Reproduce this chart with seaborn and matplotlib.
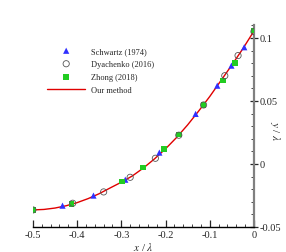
import numpy as np
import pandas as pd
import matplotlib
matplotlib.use("Agg")
import matplotlib.pyplot as plt
import seaborn as sns
from matplotlib.ticker import MultipleLocator, FixedLocator

# data
schwartz_x = [-0.433, -0.363, -0.291, -0.214, -0.132, -0.083, -0.051, -0.022]
schwartz_y = [-0.0331, -0.0251, -0.0125, 0.0090, 0.0397, 0.0621, 0.0780, 0.0926]

dyachenko_x = [-0.500, -0.410, -0.340, -0.280, -0.223, -0.170, -0.114, -0.066, -0.036, 0.000]
dyachenko_y = [-0.0365, -0.0312, -0.0222, -0.0106, 0.0045, 0.0228, 0.0468, 0.0700, 0.0860, 0.1050]

zhong_x = [-0.500, -0.413, -0.298, -0.251, -0.203, -0.170, -0.114, -0.070, -0.043, 0.000]
zhong_y = [-0.0365, -0.0320, -0.0140, -0.0029, 0.0117, 0.0233, 0.0468, 0.0661, 0.0800, 0.1058]

ours_x = [-0.500, -0.475, -0.450, -0.425, -0.400, -0.375, -0.350, -0.325, -0.300,
          -0.275, -0.250, -0.225, -0.200, -0.175, -0.150, -0.125, -0.100, -0.075,
          -0.050, -0.025, 0.000]
ours_y = [-0.0365, -0.0361, -0.0350, -0.0332, -0.0307, -0.0275, -0.0236, -0.0190, -0.0145,
          -0.0095, -0.0032, 0.0040, 0.0120, 0.0210, 0.0310, 0.0420, 0.0535, 0.0660,
          0.0785, 0.0915, 0.1055]

xticks = [-0.5, -0.4, -0.3, -0.2, -0.1, 0.0]
xtick_labels = ["-0.5", "-0.4", "-0.3", "-0.2", "-0.1", "0"]
yticks = [-0.05, 0.0, 0.05, 0.1]
ytick_labels = ["-0.05", "0", "0.05", "0.1"]

sns.set_style("ticks")
plt.rcParams["font.family"] = ["Liberation Serif", "DejaVu Serif"]
plt.rcParams["mathtext.fontset"] = "stix"

fig = plt.figure(figsize=(2.86, 2.53), dpi=100)
ax = fig.add_axes([0.115, 0.099, 0.773, 0.797])

sns.lineplot(x=ours_x, y=ours_y, ax=ax, color="#e00000", lw=1.0,
             label="Our method", zorder=2, sort=False)
sns.scatterplot(x=schwartz_x, y=schwartz_y, ax=ax, marker="^", s=20,
                color="#3030ff", edgecolor="none", label="Schwartz (1974)", zorder=3)
sns.scatterplot(x=dyachenko_x, y=dyachenko_y, ax=ax, marker="o", s=20,
                facecolor="none", edgecolor="#555555", linewidth=0.6,
                label="Dyachenko (2016)", zorder=4)
sns.scatterplot(x=zhong_x, y=zhong_y, ax=ax, marker="s", s=16,
                color="#22cc22", edgecolor="none", label="Zhong (2018)", zorder=3)

ax.set_xlim(-0.5, 0.0)
ax.set_ylim(-0.05, 0.11)

for side in ["top", "left"]:
    ax.spines[side].set_visible(False)
ax.spines["bottom"].set_color("black")
ax.spines["bottom"].set_linewidth(1.0)
ax.spines["right"].set_color("#808080")
ax.spines["right"].set_linewidth(1.6)

ax.yaxis.tick_right()
ax.yaxis.set_label_position("right")
ax.xaxis.set_major_locator(FixedLocator(xticks))
ax.set_xticklabels(xtick_labels)
ax.xaxis.set_minor_locator(MultipleLocator(0.02))
ax.yaxis.set_major_locator(FixedLocator(yticks))
ax.set_yticklabels(ytick_labels)
ax.yaxis.set_minor_locator(MultipleLocator(0.01))

ax.tick_params(axis="x", which="major", direction="in", length=5, width=0.9,
               labelsize=7.5, pad=2)
ax.tick_params(axis="x", which="minor", direction="in", length=2.5, width=0.6)
ax.tick_params(axis="y", which="major", direction="inout", length=6, width=0.9,
               labelsize=7.5, pad=1, right=True, left=False)
ax.tick_params(axis="y", which="minor", direction="in", length=2.5, width=0.6,
               right=True, left=False)

ax.set_xlabel(r"$x$ / $\lambda$", fontsize=8, labelpad=1)
ax.set_ylabel(r"$y$ / $\lambda$", fontsize=8, rotation=270, va="center")
ax.yaxis.set_label_coords(1.095, 0.48)

handles, labels = ax.get_legend_handles_labels()
order = [labels.index(n) for n in
         ["Schwartz (1974)", "Dyachenko (2016)", "Zhong (2018)", "Our method"]]
ax.legend([handles[i] for i in order], [labels[i] for i in order],
          loc="upper left", bbox_to_anchor=(0.03, 0.93), frameon=False,
          fontsize=6, handlelength=4.6, handletextpad=0.7, labelspacing=0.6)

fig.savefig("out.png", dpi=100)
